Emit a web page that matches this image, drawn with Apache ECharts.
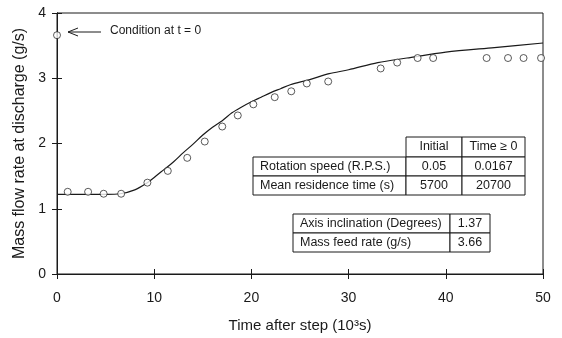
<!DOCTYPE html>
<html>
<head>
<meta charset="utf-8">
<script src="https://cdn.jsdelivr.net/npm/echarts@6/dist/echarts.min.js"></script>
<style>
  html, body { margin: 0; padding: 0; background: #fff; }
  #chart { width: 562px; height: 338px; }
</style>
</head>
<body>
<div id="chart"></div>
<script>
// measured flow rate (circles), time in 10^3 s
const measTime = [0, 1.1, 3.2, 4.8, 6.6, 9.3, 11.4, 13.4, 15.2, 17.0, 18.6, 20.2, 22.4, 24.1, 25.7, 27.9, 33.3, 35.0, 37.1, 38.7, 44.2, 46.4, 48.0, 49.8];
const measFlow = [3.66, 1.26, 1.26, 1.23, 1.23, 1.40, 1.58, 1.78, 2.03, 2.26, 2.43, 2.60, 2.71, 2.80, 2.92, 2.95, 3.15, 3.24, 3.31, 3.31, 3.31, 3.31, 3.31, 3.31];

// model curve
const modelTime = [0, 5, 6.5, 8, 9.3, 10, 11, 12, 13, 14, 15, 16, 17, 18, 19, 20, 21, 22, 23, 24, 26, 28, 30, 33, 36, 40, 45, 50];
const modelFlow = [1.22, 1.22, 1.23, 1.29, 1.40, 1.48, 1.60, 1.72, 1.86, 1.99, 2.13, 2.25, 2.35, 2.47, 2.56, 2.64, 2.71, 2.78, 2.84, 2.90, 2.98, 3.07, 3.13, 3.24, 3.31, 3.40, 3.47, 3.54];

// operating conditions tables
const table1Head = ['Initial', 'Time \u2265 0'];
const table1Rows = [
  ['Rotation speed (R.P.S.)', '0.05', '0.0167'],
  ['Mean residence time (s)', '5700', '20700']
];
const table2Rows = [
  ['Axis inclination (Degrees)', '1.37'],
  ['Mass feed rate (g/s)', '3.66']
];

const FONT = 'Liberation Sans, Arial, sans-serif';
const INK = '#1a1a1a';

const chart = echarts.init(document.getElementById('chart'));

// one bordered table cell; first column is left aligned
function cell(x, y, w, h, txt, left) {
  return [
    { type: 'rect', shape: { x: x, y: y, width: w, height: h },
      style: { fill: '#fff', stroke: INK, lineWidth: 1 }, z: 10 },
    { type: 'text', x: left ? x + 7 : x + w / 2, y: y + h / 2, z: 11,
      style: { text: txt, font: '12.5px ' + FONT, fill: INK,
        textAlign: left ? 'left' : 'center', textVerticalAlign: 'middle' } }
  ];
}

const graphics = [];
const t1x = [253, 406, 462, 525];
const t1y = [137, 157, 176, 195];
graphics.push(...cell(t1x[1], t1y[0], t1x[2] - t1x[1], t1y[1] - t1y[0], table1Head[0]));
graphics.push(...cell(t1x[2], t1y[0], t1x[3] - t1x[2], t1y[1] - t1y[0], table1Head[1]));
table1Rows.forEach((row, r) => {
  row.forEach((txt, c) => {
    graphics.push(...cell(t1x[c], t1y[r + 1], t1x[c + 1] - t1x[c], t1y[r + 2] - t1y[r + 1], txt, c === 0));
  });
});
const t2x = [293, 450, 490];
const t2y = [214, 233, 252];
table2Rows.forEach((row, r) => {
  row.forEach((txt, c) => {
    graphics.push(...cell(t2x[c], t2y[r], t2x[c + 1] - t2x[c], t2y[r + 1] - t2y[r], txt, c === 0));
  });
});

// annotation arrow + text
graphics.push(
  { type: 'line', shape: { x1: 68, y1: 32, x2: 101, y2: 32 }, style: { stroke: INK, lineWidth: 1 } },
  { type: 'polyline', shape: { points: [[78, 28], [68, 32], [78, 36]] }, style: { stroke: INK, lineWidth: 1, fill: null } },
  { type: 'text', x: 110, y: 31, style: { text: 'Condition at t = 0', font: '12px ' + FONT, fill: INK, textVerticalAlign: 'middle' } }
);

const tickStyle = { show: true, inside: true, length: 5, lineStyle: { color: INK } };

const option = {
  animation: false,
  grid: { left: 57, right: 19, top: 13, bottom: 64, show: true, borderColor: INK, borderWidth: 1 },
  xAxis: [{
    type: 'value', min: 0, max: 50, interval: 10,
    name: 'Time after step (10\u00b3s)', nameLocation: 'middle', nameGap: 44,
    nameTextStyle: { fontFamily: FONT, fontSize: 15, color: INK },
    axisLine: { show: true, lineStyle: { color: INK } },
    axisTick: tickStyle,
    axisLabel: { fontFamily: FONT, fontSize: 14, color: INK, margin: 17 },
    splitLine: { show: false }
  }, {
    type: 'value', position: 'top', min: 0, max: 50, interval: 10,
    axisLine: { show: true, lineStyle: { color: INK } },
    axisTick: tickStyle, axisLabel: { show: false }, splitLine: { show: false }
  }],
  yAxis: [{
    type: 'value', min: 0, max: 4, interval: 1,
    name: 'Mass flow rate at discharge (g/s)', nameLocation: 'middle', nameGap: 27,
    nameTextStyle: { fontFamily: FONT, fontSize: 16, color: INK },
    axisLine: { show: true, lineStyle: { color: INK } },
    axisTick: tickStyle,
    axisLabel: { fontFamily: FONT, fontSize: 14, color: INK, margin: 11 },
    splitLine: { show: false }
  }, {
    type: 'value', position: 'right', min: 0, max: 4, interval: 1,
    axisLine: { show: true, lineStyle: { color: INK } },
    axisTick: tickStyle, axisLabel: { show: false }, splitLine: { show: false }
  }],
  series: [{
    type: 'line',
    data: modelTime.map((t, i) => [t, modelFlow[i]]),
    smooth: 0.3,
    showSymbol: false,
    lineStyle: { color: INK, width: 1.2 },
    z: 3
  }, {
    type: 'scatter',
    data: measTime.map((t, i) => [t, measFlow[i]]),
    symbol: 'circle',
    symbolSize: 7,
    itemStyle: { color: '#fff', borderColor: INK, borderWidth: 0.9 },
    z: 4
  }],
  graphic: graphics
};

chart.setOption(option);
</script>
</body>
</html>
